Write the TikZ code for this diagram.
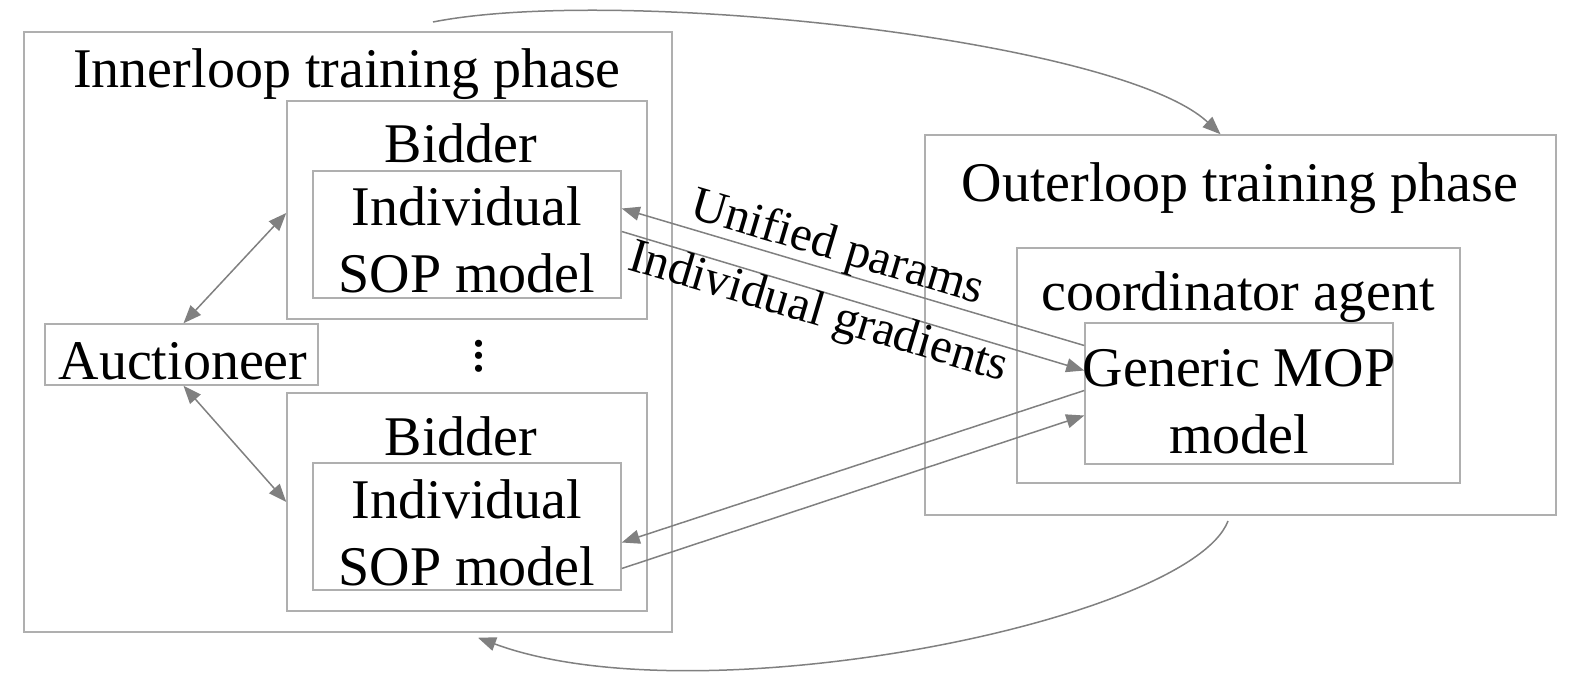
\documentclass[tikz,border=0pt]{standalone}
\usepackage{fontspec}
\setmainfont{Liberation Serif}
\usetikzlibrary{arrows.meta,calc}
\definecolor{boxgray}{RGB}{175,175,175}
\definecolor{conngray}{RGB}{128,128,128}
\begin{document}
\begin{tikzpicture}[x=1pt,y=-1pt,
  box/.style={draw=boxgray, line width=1.5pt, inner sep=0pt, fill=none},
  lbl/.style={font=\fontsize{56}{67}\selectfont, inner sep=0pt, align=center, anchor=base},
  slbl/.style={font=\fontsize{49}{56}\selectfont, inner sep=0pt, anchor=center},
  conn/.style={draw=conngray, line width=1.5pt, -{Triangle[length=18pt,width=14pt]}},
  biconn/.style={draw=conngray, line width=1.5pt, {Triangle[length=18pt,width=14pt]}-{Triangle[length=18pt,width=14pt]}}]
\useasboundingbox (0,0) rectangle (1578,676);
% boxes
\node[box, minimum width=648pt, minimum height=600pt] (inner) at (348,332) {};
\node[box, minimum width=360pt, minimum height=218pt] (bid1) at (467,210) {};
\node[box, minimum width=308pt, minimum height=127pt] (sop1) at (467,234.5) {};
\node[box, minimum width=273pt, minimum height=61pt] (auc) at (181.5,354.5) {};
\node[box, minimum width=360pt, minimum height=218pt] (bid2) at (467,502) {};
\node[box, minimum width=308pt, minimum height=127pt] (sop2) at (467,526.5) {};
\node[box, minimum width=631pt, minimum height=380pt] (outer) at (1240.5,325) {};
\node[box, minimum width=443pt, minimum height=235pt] (coord) at (1238.5,365.5) {};
\node[box, minimum width=308pt, minimum height=141pt] (mop) at (1239,393.5) {};
% texts
\node[lbl] (tinner) at (347,88) {Innerloop training phase};
\node[lbl] (tbid1) at (461,163) {Bidder};
\node[lbl] (tsop1) at (467,292) {Individual\\SOP model};
\node[lbl] (tauc) at (183,379) {Auctioneer};
\node[font=\fontsize{60}{12.5}\selectfont, inner sep=0pt, align=center] (tdots) at (479,356) {.\\.\\.};
\node[lbl] (tbid2) at (461,455) {Bidder};
\node[lbl] (tsop2) at (467,585) {Individual\\SOP model};
\node[lbl] (touter) at (1240,202) {Outerloop training phase};
\node[lbl] (tcoord) at (1238,310) {coordinator agent};
\node[lbl] (tmop) at (1239,453) {Generic MOP\\model};
% connectors
\draw[biconn] ([xshift=2pt]auc.north) -- ([yshift=-3pt]bid1.west);
\draw[biconn] ([xshift=2pt]auc.south) -- (bid2.west);
\draw[conn] ([yshift=48pt]mop.west) -- ([yshift=26pt]sop1.east);
\draw[conn] ([yshift=3pt]sop1.east) -- ([yshift=23pt]mop.west);
\draw[conn] ([yshift=3pt]mop.west) -- ([yshift=-16pt]sop2.east);
\draw[conn] ([yshift=-42pt]sop2.east) -- ([yshift=-22pt]mop.west);
\node[slbl, rotate=-16.6] (tunified) at (837,249) {Unified params};
\node[slbl, rotate=-16.6] (tgrad) at (818,314) {Individual gradients};
\coordinate (topstart) at (433,22);
\coordinate (botstart) at (1228,521);
\draw[conn] (topstart) .. controls (620,-15) and (1120,40) .. ([xshift=-20pt]outer.north);
\draw[conn] (botstart) .. controls (1190,620) and (700,720) .. ([xshift=130pt,yshift=-5pt]inner.south);
\end{tikzpicture}
\end{document}
